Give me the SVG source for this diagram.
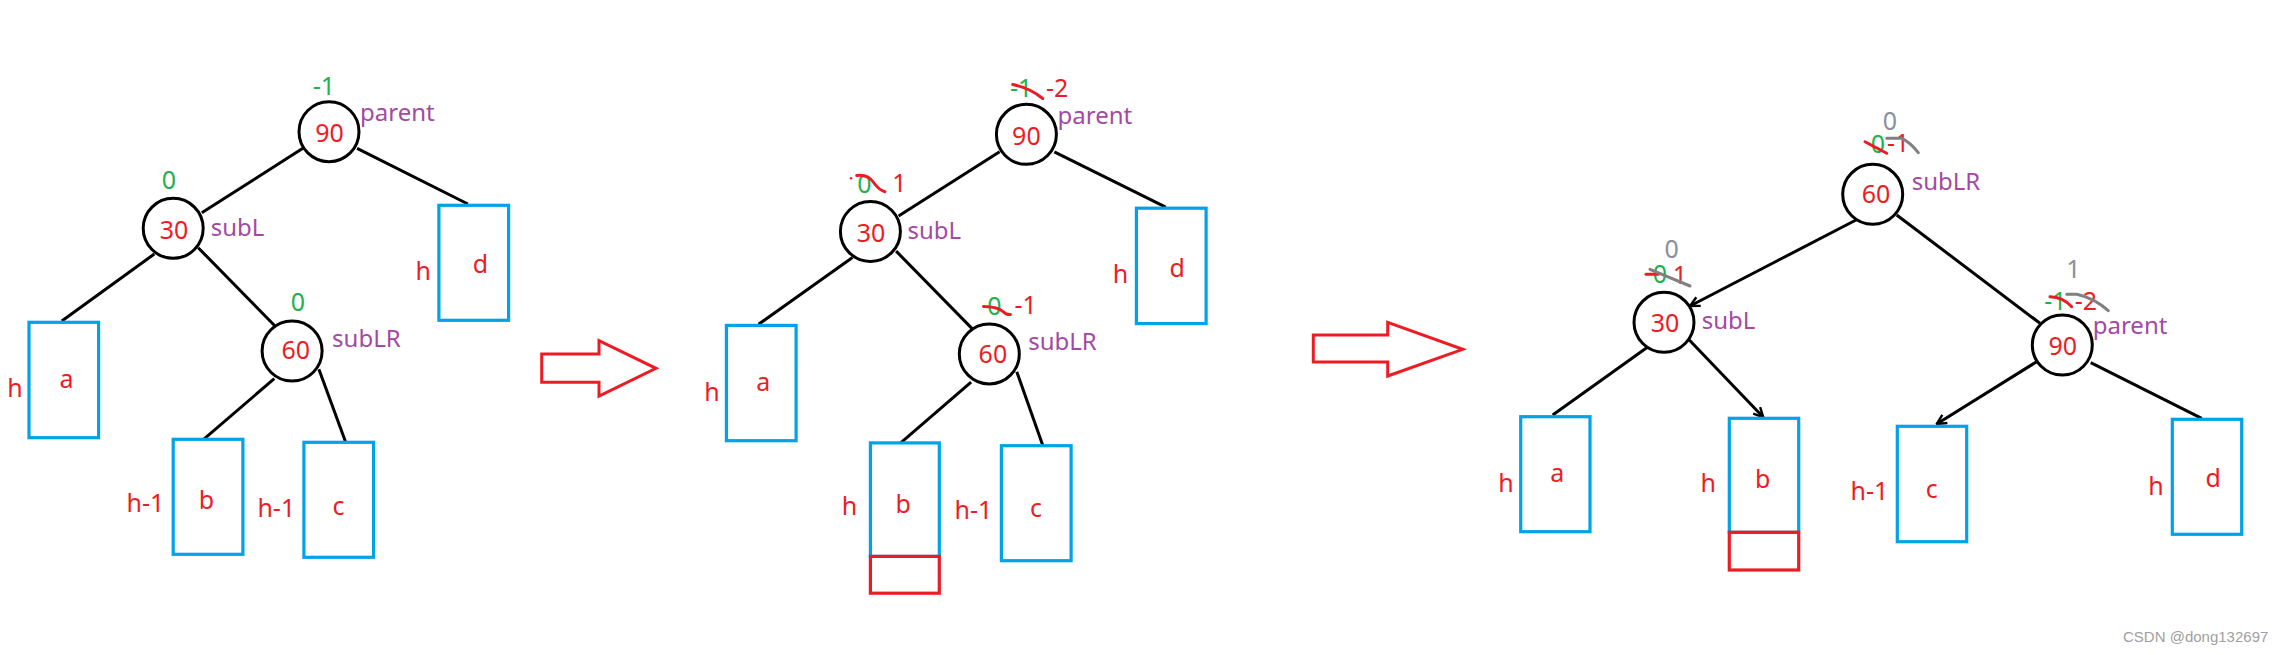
<svg xmlns="http://www.w3.org/2000/svg" width="2292" height="655" viewBox="0 0 2292 655">
<style>
text{font-family:"Noto Sans","Open Sans",sans-serif;font-size:25px}
.r{fill:#ed1c24}
.g{fill:#22b14c}
.gy{fill:#8a8f9c}
.p{fill:#a349a4;font-size:24px}
.m{text-anchor:middle}
.n{fill:#fff;stroke:#000;stroke-width:3}
.bx{fill:none;stroke:#00a2e8;stroke-width:3.2}
.rb{fill:none;stroke:#ed1c24;stroke-width:3.2}
.e{stroke:#000;stroke-width:3;fill:none}
.sr{stroke:#ed1c24;stroke-width:3;fill:none;stroke-linecap:round}
.sg{stroke:#808080;stroke-width:3;fill:none;stroke-linecap:round}
.ar{fill:#fff;stroke:#ed1c24;stroke-width:3;stroke-linejoin:miter}
.wm{font-family:"Liberation Sans",Arial,sans-serif;font-size:15px;fill:#a0a0a0}
</style>
<defs>
<marker id="tick" viewBox="0 0 10 10" refX="9" refY="5" markerWidth="4" markerHeight="4" orient="auto" markerUnits="strokeWidth">
<path d="M1,1 L9,5 L1,9" fill="none" stroke="#000" stroke-width="2"/>
</marker>
</defs>

<g id="connectors">
<!-- tree 1 -->
<line class="e" x1="302.9" y1="148.3" x2="201.8" y2="212.7"/>
<line class="e" x1="357.1" y1="148.3" x2="467.9" y2="204"/>
<line class="e" x1="154.3" y1="254" x2="61.8" y2="321"/>
<line class="e" x1="198.2" y1="247.7" x2="275" y2="326"/>
<line class="e" x1="274.3" y1="378.7" x2="203.6" y2="439.3"/>
<line class="e" x1="318.9" y1="369.3" x2="345.7" y2="442.3"/>
<!-- tree 2 -->
<line class="e" x1="999.6" y1="151.8" x2="898.6" y2="216.1"/>
<line class="e" x1="1054.3" y1="151.8" x2="1165.7" y2="207.1"/>
<line class="e" x1="852.5" y1="257.5" x2="758.6" y2="324.3"/>
<line class="e" x1="896.1" y1="251.1" x2="972.1" y2="328.6"/>
<line class="e" x1="971.1" y1="382.1" x2="900.7" y2="442.9"/>
<line class="e" x1="1016.8" y1="371.8" x2="1042.9" y2="445.7"/>
<!-- tree 3 -->
<line class="e" x1="1856" y1="220" x2="1690" y2="306" marker-end="url(#tick)"/>
<line class="e" x1="1896.7" y1="215" x2="2040" y2="323.3"/>
<line class="e" x1="1646.7" y1="347.7" x2="1552.7" y2="415"/>
<line class="e" x1="1689.3" y1="340" x2="1763.3" y2="417.3" marker-end="url(#tick)"/>
<line class="e" x1="2036.7" y1="361.7" x2="1936.7" y2="424" marker-end="url(#tick)"/>
<line class="e" x1="2090.7" y1="362.7" x2="2201.7" y2="418.3"/>
</g>

<!-- ===== Tree 1 ===== -->
<g id="t1-n90">
<circle class="n" cx="329" cy="131.7" r="30"/>
<text class="r m" x="329.5" y="141.7">90</text>
<text class="g m" x="324" y="95">-1</text>
<text class="p" x="360" y="121">parent</text>
</g>
<g id="t1-n30">
<circle class="n" cx="173.2" cy="228.3" r="30"/>
<text class="r m" x="174" y="239">30</text>
<text class="g m" x="169" y="189.3">0</text>
<text class="p" x="210.7" y="235.7">subL</text>
</g>
<g id="t1-n60">
<circle class="n" cx="292.1" cy="351" r="30"/>
<text class="r m" x="295.7" y="359.3">60</text>
<text class="g m" x="297.9" y="310.7">0</text>
<text class="p" x="332.1" y="346.7">subLR</text>
</g>
<g id="t1-a">
<rect class="bx" x="29" y="322.3" width="69.6" height="115.4"/>
<text class="r m" x="66.4" y="387.7">a</text>
<text class="r m" x="15" y="397.3">h</text>
</g>
<g id="t1-b">
<rect class="bx" x="173.2" y="439.3" width="69.7" height="115"/>
<text class="r m" x="206.4" y="509.3">b</text>
<text class="r m" x="145.5" y="511.7">h-1</text>
</g>
<g id="t1-c">
<rect class="bx" x="303.9" y="442.3" width="69.7" height="115"/>
<text class="r m" x="338.6" y="515">c</text>
<text class="r m" x="276.3" y="516.7">h-1</text>
</g>
<g id="t1-d">
<rect class="bx" x="438.9" y="205.3" width="69.7" height="115"/>
<text class="r m" x="480.4" y="273.3">d</text>
<text class="r m" x="423.2" y="280">h</text>
</g>

<g id="arrow1">
<polygon class="ar" points="541.7,354 599,354 599,340.7 656,368.3 599,396 599,382.3 541.7,382.3"/>
</g>

<!-- ===== Tree 2 ===== -->
<g id="t2-n90">
<circle class="n" cx="1026.4" cy="134.3" r="30"/>
<text class="r m" x="1026.4" y="144.6">90</text>
<text class="g" x="1010" y="97">-1</text>
<path class="sr" d="M1012.7,84.5 Q1030,88 1042.7,98.5"/>
<text class="r" x="1046" y="96.8">-2</text>
<text class="p" x="1057.5" y="124.3">parent</text>
</g>
<g id="t2-n30">
<circle class="n" cx="870.4" cy="231.4" r="30"/>
<text class="r m" x="871" y="242.1">30</text>
<text class="g m" x="864.5" y="192.5">0</text>
<path class="sr" d="M856.7,175.5 Q868,174 874,183 Q879,190 885,191.7"/>
<circle cx="851" cy="178.3" r="1.2" fill="#ed1c24"/>
<text class="r m" x="899.5" y="192">1</text>
<text class="p" x="907.5" y="238.6">subL</text>
</g>
<g id="t2-n60">
<circle class="n" cx="989.3" cy="353.9" r="30"/>
<text class="r m" x="992.9" y="362.9">60</text>
<text class="g m" x="994.3" y="315.2">0</text>
<path class="sr" d="M983.6,306.4 Q998,306.5 1003,311.5 Q1006,314.8 1010.4,314.6"/>
<text class="r" x="1014.5" y="313.6">-1</text>
<text class="p" x="1028.2" y="350">subLR</text>
</g>
<g id="t2-a">
<rect class="bx" x="726.4" y="325.4" width="69.7" height="115.3"/>
<text class="r m" x="763.2" y="391.1">a</text>
<text class="r m" x="712.1" y="401.1">h</text>
</g>
<g id="t2-b">
<rect class="bx" x="870.4" y="442.9" width="68.9" height="113.5"/>
<rect class="rb" x="870.4" y="556.4" width="68.9" height="36.8"/>
<text class="r m" x="903.2" y="512.9">b</text>
<text class="r m" x="849.6" y="515.4">h</text>
</g>
<g id="t2-c">
<rect class="bx" x="1001.4" y="445.7" width="69.7" height="115"/>
<text class="r m" x="1036.1" y="517.1">c</text>
<text class="r m" x="973.4" y="518.9">h-1</text>
</g>
<g id="t2-d">
<rect class="bx" x="1136.4" y="208.2" width="69.7" height="115.4"/>
<text class="r m" x="1177.1" y="276.8">d</text>
<text class="r m" x="1120.4" y="283.2">h</text>
</g>

<g id="arrow2">
<polygon class="ar" points="1313.3,335 1387.7,335 1387.7,322.3 1462.7,349.3 1387.7,376 1387.7,362 1313.3,362"/>
</g>

<!-- ===== Tree 3 ===== -->
<g id="t3-n60">
<circle class="n" cx="1872.7" cy="194.3" r="30"/>
<text class="r m" x="1876" y="202.7">60</text>
<text class="gy m" x="1890" y="129.5">0</text>
<text class="g m" x="1878" y="153.3">0</text>
<text class="r" x="1887" y="152">-1</text>
<path class="sr" d="M1865,141.7 L1886.7,153.3"/>
<path class="sg" d="M1886.7,138.3 L1901.7,138.3 Q1910,142 1918.3,152.7"/>
<text class="p" x="1911.7" y="190">subLR</text>
</g>
<g id="t3-n30">
<circle class="n" cx="1664" cy="322.3" r="30"/>
<text class="r m" x="1665" y="332.3">30</text>
<text class="gy m" x="1671.7" y="258.3">0</text>
<text class="g m" x="1660" y="283.3">0</text>
<text class="r m" x="1680" y="284">1</text>
<path class="sr" d="M1646,274.3 L1658.3,274.3"/>
<path class="sg" d="M1650,269.3 L1690,286"/>
<text class="p" x="1701.7" y="329.3">subL</text>
</g>
<g id="t3-n90">
<circle class="n" cx="2062.3" cy="345" r="30"/>
<text class="r m" x="2062.7" y="355">90</text>
<text class="gy m" x="2073.3" y="278.3">1</text>
<text class="g m" x="2055.5" y="310">-1</text>
<path class="sr" d="M2050,296.7 Q2063,297 2071.7,306.7"/>
<text class="r m" x="2086" y="310">-2</text>
<path class="sg" d="M2066.7,294.3 L2076.7,294.3 Q2094,298 2108.3,310.7"/>
<text class="p" x="2092.7" y="334.3">parent</text>
</g>
<g id="t3-a">
<rect class="bx" x="1520.7" y="416.7" width="69.3" height="115"/>
<text class="r m" x="1557.3" y="481.7">a</text>
<text class="r m" x="1506" y="491.7">h</text>
</g>
<g id="t3-b">
<rect class="bx" x="1729.3" y="418.3" width="69.4" height="114"/>
<rect class="rb" x="1729.3" y="532.3" width="69.4" height="37.7"/>
<text class="r m" x="1762.7" y="488.3">b</text>
<text class="r m" x="1708.3" y="491.7">h</text>
</g>
<g id="t3-c">
<rect class="bx" x="1897.3" y="426.3" width="69.4" height="115.4"/>
<text class="r m" x="1931.7" y="498.3">c</text>
<text class="r m" x="1869.5" y="500">h-1</text>
</g>
<g id="t3-d">
<rect class="bx" x="2172.3" y="419.3" width="69.4" height="115"/>
<text class="r m" x="2213.3" y="487.3">d</text>
<text class="r m" x="2156" y="495">h</text>
</g>

<text class="wm" x="2123" y="641.7">CSDN @dong132697</text>
</svg>
